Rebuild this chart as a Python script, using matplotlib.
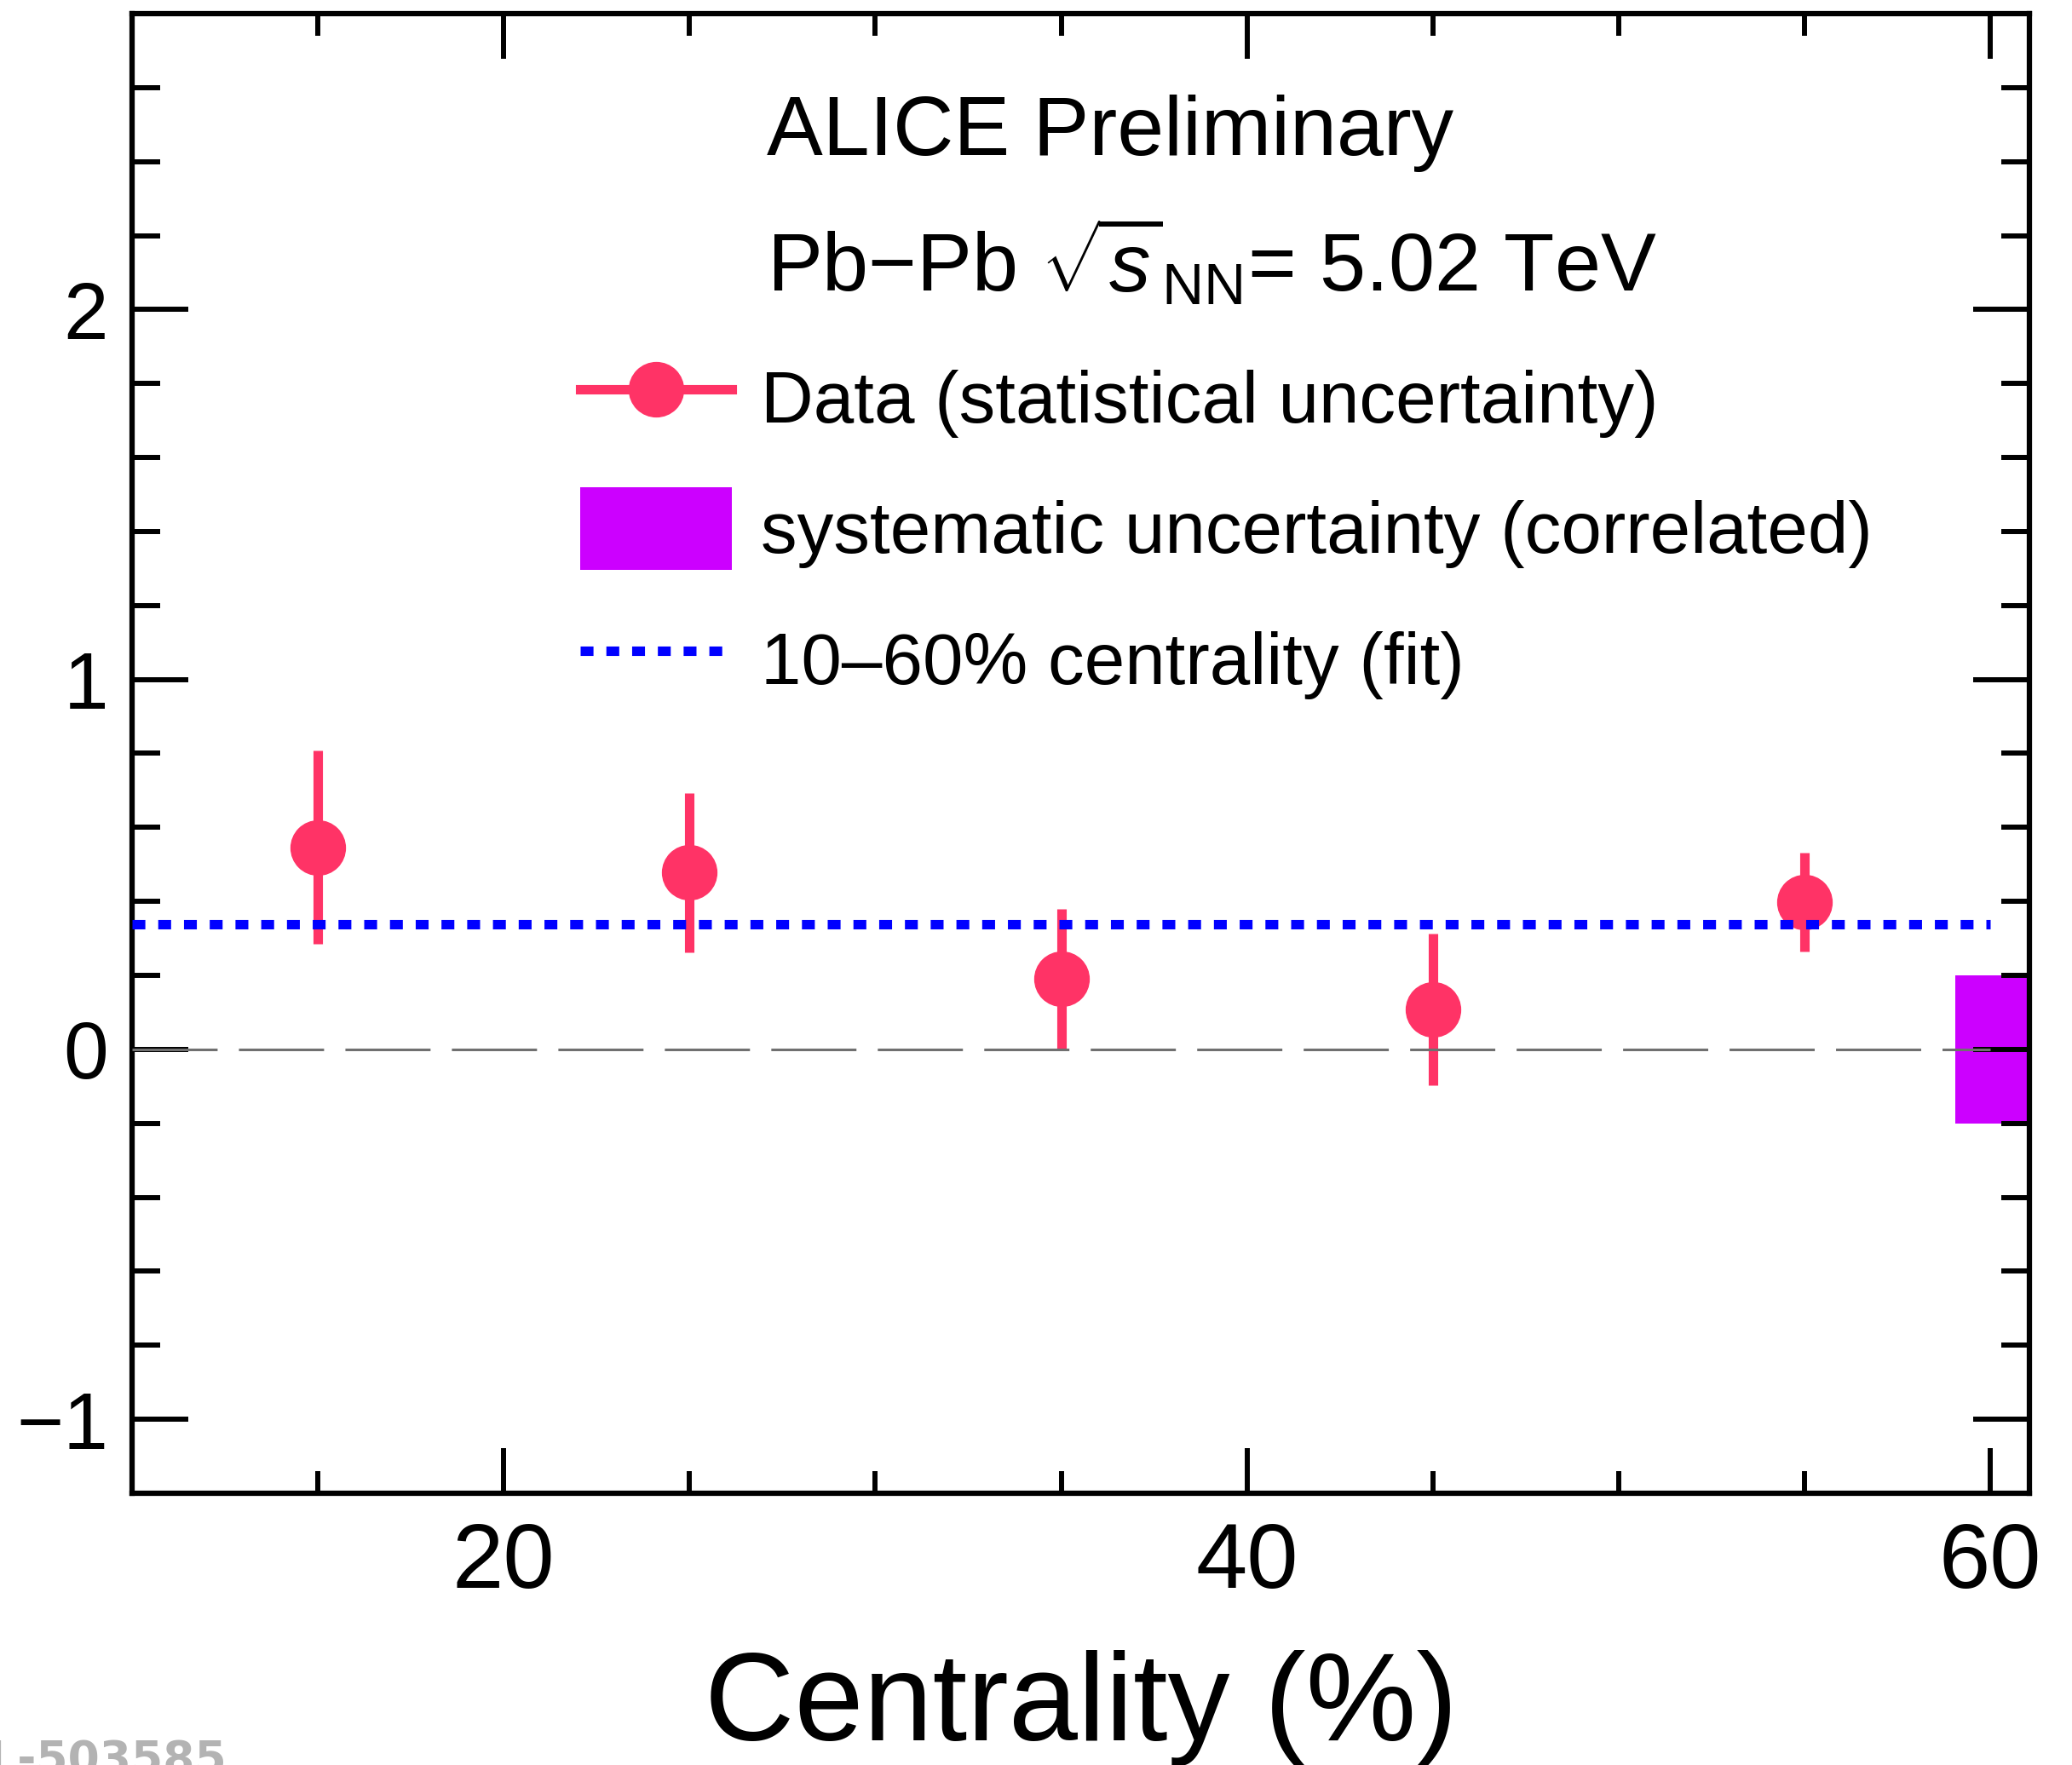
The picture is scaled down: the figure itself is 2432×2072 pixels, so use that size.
import matplotlib
matplotlib.use("Agg")
import matplotlib.pyplot as plt
from matplotlib.lines import Line2D
from matplotlib.patches import Patch
from matplotlib.ticker import MultipleLocator

plt.rcParams['font.family'] = ['Liberation Sans', 'DejaVu Sans']
plt.rcParams['mathtext.fontset'] = 'custom'
plt.rcParams['mathtext.rm'] = 'Liberation Sans'
plt.rcParams['mathtext.it'] = 'Liberation Sans:italic'
plt.rcParams['mathtext.sf'] = 'Liberation Sans'

# Data
centrality = [15, 25, 35, 45, 55]          # bin centres (%)
value = [0.546, 0.478, 0.190, 0.108, 0.398]
stat_err = [0.261, 0.216, 0.190, 0.205, 0.133]

fit_value = 0.338                          # constant fit over 10-60%
fit_range = [10, 60]

sys_x = [59.05, 61.05]                     # correlated systematic box
sys_err = 0.2

x_lim = (10, 61.05)
y_lim = (-1.2, 2.8)

legend_labels = ['Data (statistical uncertainty)',
                 'systematic uncertainty (correlated)',
                 '10\u201360% centrality (fit)']

pink = '#ff3366'
purple = '#cc00ff'

fig = plt.figure(figsize=(24.32, 20.72), dpi=100)
ax = fig.add_axes([155/2432, 1 - 1753/2072, (2382 - 155)/2432, (1753 - 16)/2072])

# systematic box
ax.bar((sys_x[0] + sys_x[1]) / 2, 2 * sys_err, bottom=-sys_err,
       width=sys_x[1] - sys_x[0], color=purple, linewidth=0, zorder=1)

# data with stat. errors
ax.errorbar(centrality, value, yerr=stat_err, fmt='o', color=pink,
            ms=46, elinewidth=8, capsize=0, zorder=2)

# zero line
ax.plot(fit_range, [0, 0], color='#707070', lw=2.2, dashes=(32.7, 8.2), zorder=3)

# fit line
ax.plot(fit_range, [fit_value, fit_value], color='blue', lw=8,
        dashes=(1.36, 1.36), zorder=4)

ax.set_xlim(*x_lim)
ax.set_ylim(*y_lim)

ax.xaxis.set_major_locator(MultipleLocator(20))
ax.xaxis.set_minor_locator(MultipleLocator(5))
ax.yaxis.set_major_locator(MultipleLocator(1))
ax.yaxis.set_minor_locator(MultipleLocator(0.2))

for sp in ax.spines.values():
    sp.set_linewidth(4.5)

ax.tick_params(which='both', direction='in', top=True, right=True, width=4.3)
ax.tick_params(axis='y', which='major', length=47.5, pad=20, labelsize=68)
ax.tick_params(axis='y', which='minor', length=23.8)
ax.tick_params(axis='x', which='major', length=38, pad=24, labelsize=78)
ax.tick_params(axis='x', which='minor', length=18.7)

ax.set_xlabel('Centrality (%)', fontsize=105)
ax.xaxis.label.set_va('baseline')
ax.xaxis.set_label_coords(0.5, -0.167)

ax.text(0.3345, 0.9044, 'ALICE Preliminary', fontsize=71,
        transform=ax.transAxes, va='baseline')
ax.text(0.3345, 0.8117, r'Pb$-$Pb $\sqrt{s}_{\mathrm{NN}}$= 5.02 TeV', fontsize=70,
        transform=ax.transAxes, va='baseline')

handles = [Line2D([], [], color=pink, lw=8, marker='o', ms=46),
           Patch(facecolor=purple, edgecolor='none'),
           Line2D([], [], color='blue', lw=8, dashes=(1.36, 1.36))]
ax.legend(handles, legend_labels, loc='upper left', bbox_to_anchor=(0.2362, 0.768),
          frameon=False, fontsize=61.5, handlelength=2.08, handleheight=1.37,
          handletextpad=0.4, labelspacing=0.66, borderpad=0, borderaxespad=0,
          numpoints=1)

fig.text(266/2432, 1 - 2082/2072, 'ALI-PREL-503585', ha='right', va='baseline',
         fontsize=38.5, fontweight='bold', color='#b3b3b3', family='DejaVu Sans')

fig.savefig('out.png', dpi=100)
